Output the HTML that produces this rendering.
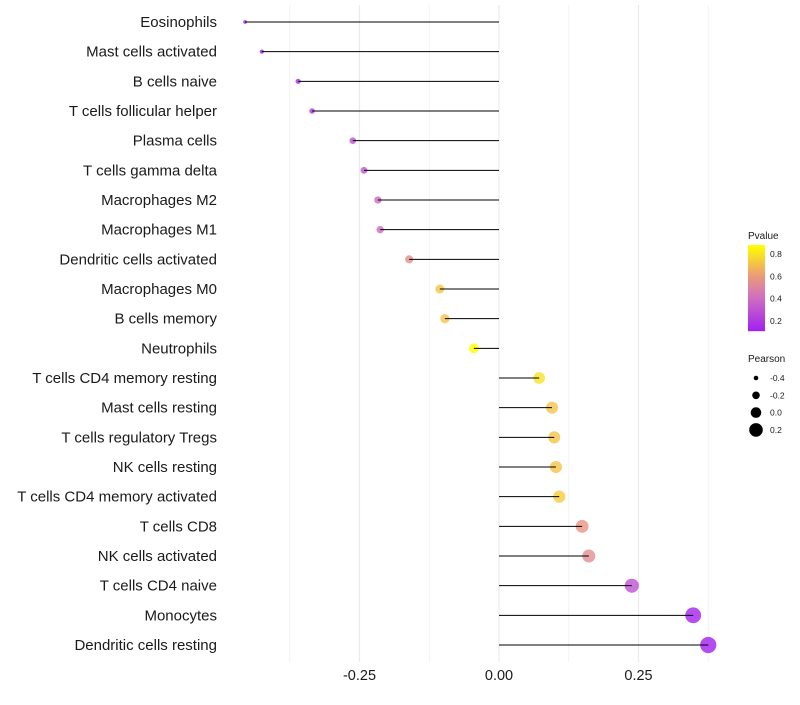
<!DOCTYPE html>
<html><head><meta charset="utf-8"><style>
body{margin:0;background:#fff;font-family:"Liberation Sans",sans-serif}
svg text{font-family:"Liberation Sans",sans-serif}
</style></head><body>
<svg id="chart" width="800" height="700"></svg>
<script>
const categories=["Eosinophils","Mast cells activated","B cells naive","T cells follicular helper","Plasma cells","T cells gamma delta","Macrophages M2","Macrophages M1","Dendritic cells activated","Macrophages M0","B cells memory","Neutrophils","T cells CD4 memory resting","Mast cells resting","T cells regulatory  Tregs ","NK cells resting","T cells CD4 memory activated","T cells CD8","NK cells activated","T cells CD4 naive","Monocytes","Dendritic cells resting"];
const pearson=[-0.455,-0.425,-0.360,-0.335,-0.262,-0.242,-0.217,-0.213,-0.161,-0.106,-0.097,-0.045,0.072,0.095,0.099,0.102,0.108,0.149,0.161,0.238,0.348,0.375];
const pvalue=[0.05,0.08,0.15,0.2,0.3,0.32,0.38,0.4,0.55,0.72,0.72,0.88,0.8,0.72,0.72,0.72,0.74,0.58,0.55,0.3,0.12,0.1];
const xTicks=[-0.25,0,0.25];
const xTickLabels=["-0.25","0.00","0.25"];
const pLegendTicks=[0.2,0.4,0.6,0.8];
const sizeLegend=[-0.4,-0.2,0.0,0.2];
const NS="http://www.w3.org/2000/svg";
const svg=document.getElementById('chart');
const x=v=>499+v*558;
const y=i=>22+i*29.667;
const r=v=>Math.max(1.6,5.3+v*7.5);
const pTop=0.88,pBot=0.11;
function col(p){
  const stops=[[0,[160,32,240]],[0.4,[208,112,192]],[0.65,[236,156,118]],[1,[255,255,0]]];
  let t=Math.min(1,Math.max(0,(p-pBot)/(pTop-pBot)));
  let j=0;while(j<stops.length-2&&t>stops[j+1][0])j++;
  let a=stops[j],b=stops[j+1];
  let u=(t-a[0])/(b[0]-a[0]);
  return `rgb(${a[1].map((c,k)=>Math.round(c+(b[1][k]-c)*u)).join(',')})`;
}
function el(tag,attrs){const e=document.createElementNS(NS,tag);for(const k in attrs)e.setAttribute(k,attrs[k]);svg.appendChild(e);return e;}
[-0.375,-0.125,0.125,0.375].forEach(v=>{const g=el('line',{x1:x(v),x2:x(v),y1:5,y2:662,stroke:'#f2f2f2','stroke-width':1});

});
xTicks.forEach((v,i)=>{const g=el('line',{x1:x(v),x2:x(v),y1:5,y2:662,stroke:'#ebebeb','stroke-width':1.2});


const t=el('text',{x:x(v),y:680,'text-anchor':'middle','font-size':14.5,fill:'#1a1a1a'});t.textContent=xTickLabels[i];

});
categories.forEach((c,i)=>{
  const t=el('text',{x:217,y:y(i)+5,'text-anchor':'end','font-size':15,fill:'#1a1a1a'});t.textContent=c;
  
  
  const p=el('circle',{cx:x(pearson[i]),cy:y(i),r:r(pearson[i]),fill:col(pvalue[i]),'fill-opacity':0.8});
  
  
  const l=el('line',{x1:x(0),x2:x(pearson[i]),y1:y(i),y2:y(i),stroke:'#000','stroke-width':1});
  
  
});
const lt=el('text',{x:748,y:239,'font-size':10,fill:'#1a1a1a'});lt.textContent='Pvalue';


for(let k=0;k<86;k++){const p=pTop-(pTop-pBot)*k/86;const rr=el('rect',{x:748,y:245+k,width:17,height:1.2,fill:col(p)});

}
pLegendTicks.forEach(v=>{const yy=245+(pTop-v)/(pTop-pBot)*86;
const t=el('text',{x:770,y:yy+3,'font-size':8.5,fill:'#1a1a1a'});t.textContent=v.toFixed(1);

});
const st=el('text',{x:748,y:362,'font-size':10,fill:'#1a1a1a'});st.textContent='Pearson';


sizeLegend.forEach((v,i)=>{const yy=378+i*17.3;
const c=el('circle',{cx:756,cy:yy,r:r(v),fill:'#000'});


const t=el('text',{x:770,y:yy+3,'font-size':8.5,fill:'#1a1a1a'});t.textContent=v.toFixed(1);

});
</script>
</body></html>
